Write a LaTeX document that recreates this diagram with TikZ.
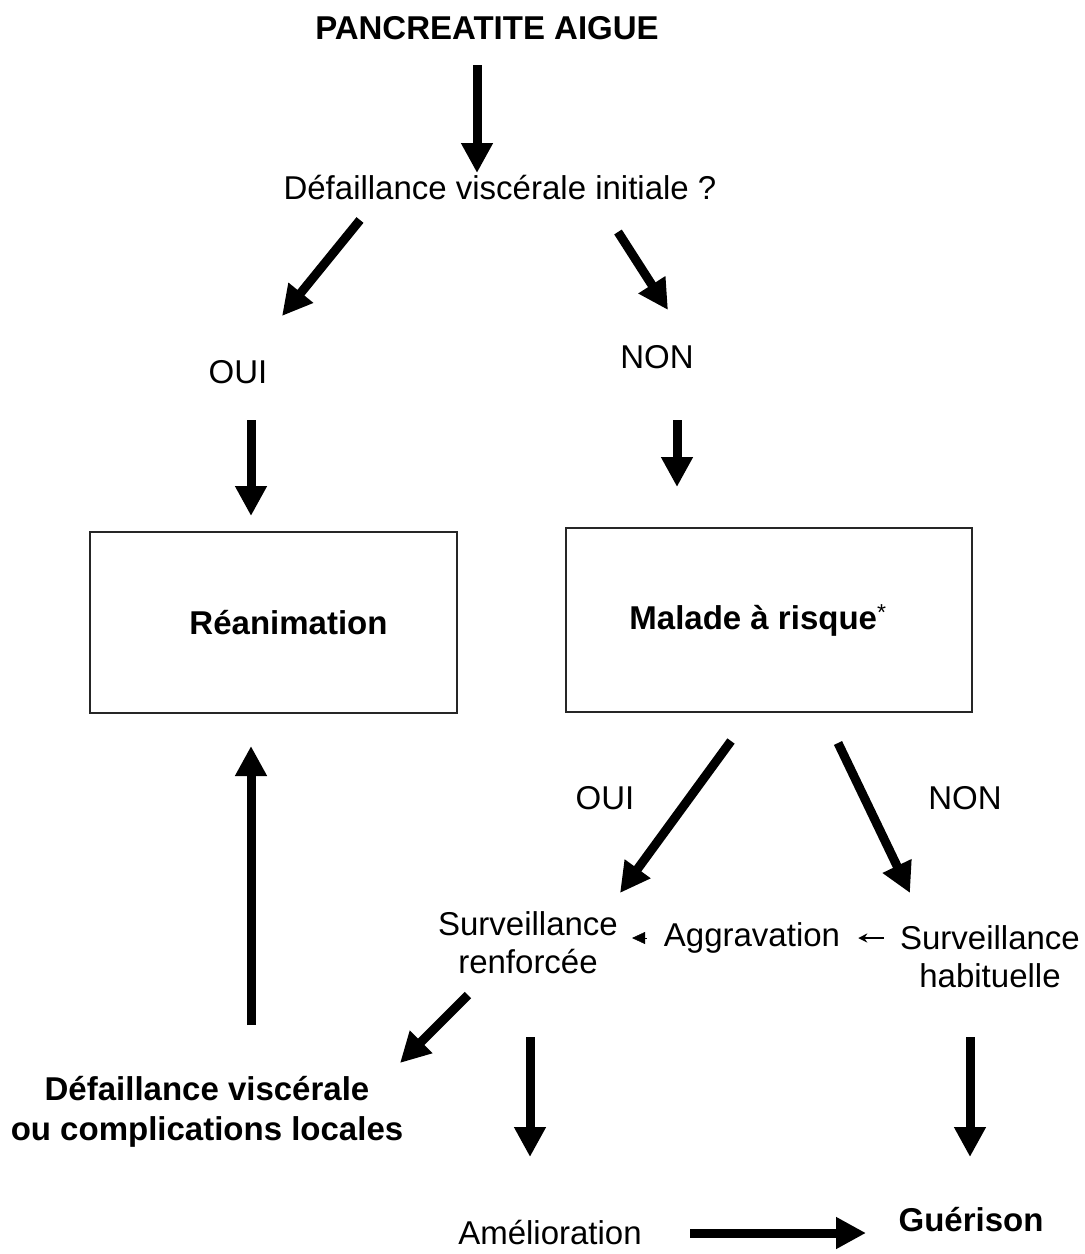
\documentclass[tikz,border=0pt]{standalone}
\usepackage{fontspec}
\setmainfont{Liberation Sans}
\usetikzlibrary{arrows.meta,calc}

\begin{document}
\begin{tikzpicture}[
  x=1pt, y=-1pt,
  font=\fontsize{33}{38}\selectfont,
  txt/.style={inner sep=0pt, align=center},
  bold/.style={txt, font=\fontsize{33}{40}\selectfont\bfseries},
  box/.style={draw=black!85, line width=2pt, minimum width=367pt, minimum height=181pt,
    font=\fontsize{33}{38}\selectfont\bfseries},
  arr/.style={line width=9pt, -{Triangle[length=30pt,width=30pt]}},
  tip/.style={-{Triangle[length=13pt,width=12pt]}},
  thinarr/.style={line width=2pt, -{Stealth[length=9pt,width=9pt]}}]

\useasboundingbox (0,0) rectangle (1085,1254);

% haut
\node[bold] (title) at (487,28) {PANCREATITE AIGUE};
\node[txt] (init) at (500,188) {Défaillance viscérale initiale ?};
\node[txt] (oui1) at (238,372) {OUI};
\node[txt] (non1) at (657,357) {NON};

% cadres
\node[box] (reanim) at (273.5,622.5) {\hspace*{30pt}Réanimation};
\node[box, minimum width=406pt, minimum height=184pt] (malade) at (769,620) {Malade à risque\textsuperscript{\normalfont *}\hspace*{22pt}};

% milieu
\node[txt] (oui2) at (605,798) {OUI};
\node[txt] (non2) at (965,798) {NON};
\node[txt] (renf) at (528,943) {Surveillance\\renforcée};
\node[txt] (aggr) at (752,938) {Aggravation};
\node[txt] (habit) at (990,957) {Surveillance\\habituelle};

% bas
\node[bold] (defv) at (207,1112) {Défaillance viscérale\\ou complications locales};
\node[txt] (amel) at (550,1232) {Amélioration};
\node[bold] (guer) at (971,1220) {Guérison};

\draw[arr] ($(title)+(-10,37)$) -- ($(init)+(-23,-15)$);
\draw[arr] ($(init)+(-140,32)$) -- ($(oui1)+(44,-56)$);
\draw[arr] ($(init)+(118,44)$) -- ($(non1)+(11,-47)$);
\draw[arr] ($(oui1)+(13,48)$) -- ($(reanim.north)+(-22.5,-15)$);
\draw[arr] ($(non1)+(20,63)$) -- ($(malade.north)+(-92,-40)$);
\draw[arr] ($(malade.south)+(-38,28)$) -- ($(renf)+(92,-50)$);
\draw[arr] ($(malade.south)+(69,30)$) -- ($(habit)+(-80,-64)$);
\draw[arr] ($(renf)+(-60,52)$) -- ($(defv)+(193,-49)$);
\draw[arr] ($(defv)+(44,-87)$) -- ($(reanim.south)+(-22.5,32)$);
\draw[arr] ($(renf)+(2,94)$) -- ($(amel)+(-20,-75)$);
\draw[arr] ($(habit)+(-20,80)$) -- ($(guer)+(-1,-63)$);
\draw[arr] ($(amel)+(140,1)$) -- ($(guer)+(-105,13)$);

\draw[tip, shorten <=17pt, shorten >=14pt] (aggr.west) -- (aggr.west -| renf.east);
\draw[thinarr, shorten <=16pt, shorten >=18pt] (aggr.east -| habit.west) -- (aggr.east);

\end{tikzpicture}
\end{document}
